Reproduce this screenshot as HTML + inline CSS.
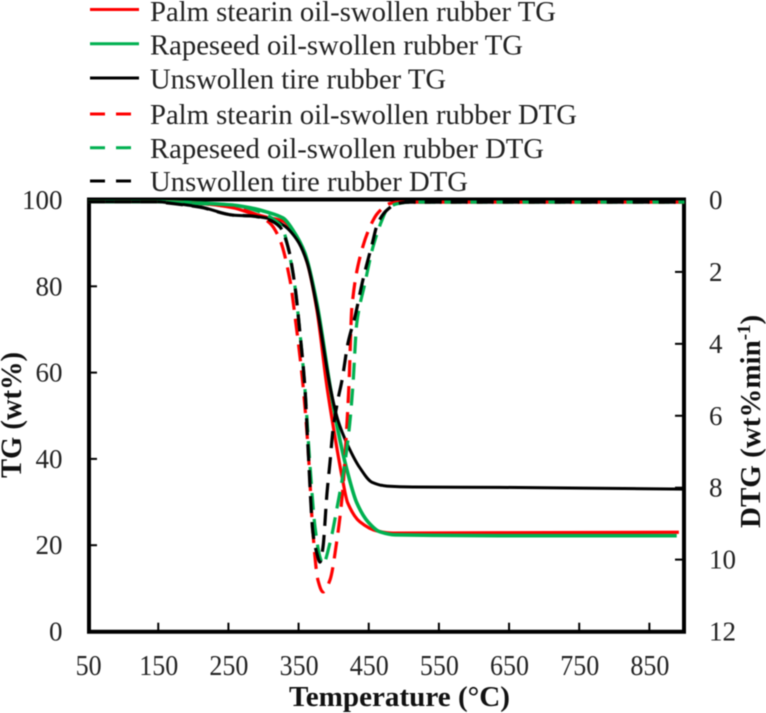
<!DOCTYPE html>
<html lang="en">
<head>
<meta charset="utf-8">
<title>TG and DTG curves</title>
<style>
html,body{margin:0;padding:0;background:#fff;}
body{width:766px;height:713px;overflow:hidden;}
svg{display:block;filter:blur(0.4px);font-family:"Liberation Serif",serif;fill:#222;}
</style>
</head>
<body>
<svg id="chart" width="766" height="713" viewBox="0 0 766 713" xmlns="http://www.w3.org/2000/svg">
  <g font-size="28">
    <line x1="90" x2="139" y1="9.5" y2="9.5" stroke="#ff0000" stroke-width="3"/>
    <text x="150" y="21" textLength="406" lengthAdjust="spacingAndGlyphs">Palm stearin oil-swollen rubber TG</text>
    <line x1="90" x2="139" y1="43.7" y2="43.7" stroke="#00b050" stroke-width="3"/>
    <text x="150" y="54.5" textLength="373" lengthAdjust="spacingAndGlyphs">Rapeseed oil-swollen rubber TG</text>
    <line x1="90" x2="139" y1="78" y2="78" stroke="#000" stroke-width="3"/>
    <text x="150" y="88.5" textLength="296" lengthAdjust="spacingAndGlyphs">Unswollen tire rubber TG</text>
    <line x1="90" x2="131" y1="114" y2="114" stroke="#ff0000" stroke-width="3" stroke-dasharray="15 11"/>
    <text x="150" y="124" textLength="427" lengthAdjust="spacingAndGlyphs">Palm stearin oil-swollen rubber DTG</text>
    <line x1="90" x2="131" y1="147.7" y2="147.7" stroke="#00b050" stroke-width="3" stroke-dasharray="15 11"/>
    <text x="150" y="158" textLength="394" lengthAdjust="spacingAndGlyphs">Rapeseed oil-swollen rubber DTG</text>
    <line x1="90" x2="131" y1="181" y2="181" stroke="#000" stroke-width="3" stroke-dasharray="15 11"/>
    <text x="150" y="191" textLength="318" lengthAdjust="spacingAndGlyphs">Unswollen tire rubber DTG</text>
  </g>
  <g id="axes"></g>
  <g id="series" fill="none"></g>
  <text x="289" y="706" font-size="29" font-weight="bold" fill="#111" textLength="221" lengthAdjust="spacingAndGlyphs">Temperature (°C)</text>
  <text transform="translate(21 478) rotate(-90)" font-size="30" font-weight="bold" fill="#111" textLength="126" lengthAdjust="spacingAndGlyphs">TG (wt%)</text>
  <text transform="translate(760 528) rotate(-90)" font-size="29" font-weight="bold" fill="#111">DTG (wt%min<tspan dy="-10" font-size="19">-1</tspan><tspan dy="10">)</tspan></text>
</svg>
<script>
var xTicks = [50,150,250,350,450,550,650,750,850];
var yLeftTicks = [0,20,40,60,80,100];
var yRightTicks = [0,2,4,6,8,10,12];

var palmTgT = [50,150,209.5,256.6,281,305,328,348,362,376,390.5,402,412,420,437.5,461.7,484.5,637,892];
var palmTgV = [99.6,99.6,99.2,98.2,97.0,96.0,95.1,91.1,85.6,74.6,56.7,45,35.8,29.8,25.4,23.3,22.8,22.9,23];

var rapeTgT = [50,150,209.5,256.6,281,305,328,342,359,376,395,406,419,433,449,466,487.5,637,889];
var rapeTgV = [99.6,99.6,99.3,98.8,98.2,97.2,95.8,93,87.7,76.1,56.7,46.7,37.4,29.8,25.4,23.1,22.4,22.2,22.2];

var tireTgT = [50,150,162.5,209.5,256.6,281,305,328,348,362,376,395,406,420,437.5,454.5,476,513,637,900];
var tireTgV = [99.6,99.6,99.4,98.4,96.5,96.3,95.8,94.2,90.7,85.6,75.2,56.7,49,43.2,37.9,34.6,33.7,33.5,33.4,33];

var palmDtgT = [50,150,209.5,256.6,288,309,323.5,337.7,345,356,363.4,370.5,377.6,384.8,394.7,404.7,413,419,421.8,426,437.5,451.7,463,480,494.4,900];
var palmDtgV = [0.05,0.05,0.1,0.2,0.39,0.64,1.11,2.22,3.25,5.09,6.87,9.26,10.57,10.9,10.57,9.45,8.06,6.2,5.14,2.98,1.59,0.75,0.36,0.1,0.06,0.06];

var rapeDtgT = [50,150,209.5,256.6,295,316,326,342,352,359,366,373.4,380.5,384.8,394.7,406,416,423,427.5,433,444.6,456,468.8,477.4,491.6,508.7,900];
var rapeDtgV = [0.05,0.05,0.1,0.14,0.33,0.56,0.75,2.03,3.7,5.23,7.31,9.09,9.93,10.12,9.54,8.43,7.31,6.2,5.14,3.42,2.31,1.31,0.56,0.22,0.1,0.06,0.06];

var tireDtgT = [50,150,162.5,209.5,256.6,280.8,305,323.5,335,345,352,359,363.4,370.5,376,380.5,384.8,390.5,394.7,399,406,412,420.4,430.3,441.7,454.5,463,476,490,508.7,900];
var tireDtgV = [0.05,0.05,0.08,0.2,0.42,0.44,0.53,0.75,1.31,2.42,3.7,5.2,6.87,9.26,9.82,10.07,9.65,8.15,7.31,6.4,5.56,5,3.98,3.25,2.22,1.25,0.64,0.28,0.1,0.06,0.06];

function xScale(t){ return 88.1 + (t - 50) * 0.7016; }
function yLeft(v){ return 631.5 - v * 4.315; }
function yRight(v){ return 200 + v * 35.96; }

var SVGNS = 'http://www.w3.org/2000/svg';
var seriesGroup = document.getElementById('series');
var axesGroup = document.getElementById('axes');

function smoothPath(ts, vs, yFn){
  var n = ts.length, px = [], py = [], s = [], m = [], i;
  for (i = 0; i < n; i++){ px.push(xScale(ts[i])); py.push(yFn(vs[i])); }
  for (i = 0; i < n - 1; i++){ s.push((py[i + 1] - py[i]) / (px[i + 1] - px[i])); }
  m.push(s[0]);
  for (i = 1; i < n - 1; i++){
    m.push(s[i - 1] * s[i] <= 0 ? 0 : 2 * s[i - 1] * s[i] / (s[i - 1] + s[i]));
  }
  m.push(s[n - 2]);
  var d = 'M' + px[0].toFixed(2) + ' ' + py[0].toFixed(2);
  for (i = 0; i < n - 1; i++){
    var h = (px[i + 1] - px[i]) / 3;
    d += 'C' + (px[i] + h).toFixed(2) + ' ' + (py[i] + m[i] * h).toFixed(2) + ' ' +
         (px[i + 1] - h).toFixed(2) + ' ' + (py[i + 1] - m[i + 1] * h).toFixed(2) + ' ' +
         px[i + 1].toFixed(2) + ' ' + py[i + 1].toFixed(2);
  }
  return d;
}

function addCurve(name, ts, vs, yFn, color, width, dash){
  var p = document.createElementNS(SVGNS, 'path');
  
  
  p.setAttribute('d', smoothPath(ts, vs, yFn));
  p.setAttribute('stroke', color);
  p.setAttribute('stroke-width', width);
  p.setAttribute('stroke-linejoin', 'round');
  if (dash) p.setAttribute('stroke-dasharray', dash);
  seriesGroup.appendChild(p);
}

addCurve('palm-tg-line', palmTgT, palmTgV, yLeft, '#ff0000', 3.2, null);
addCurve('rapeseed-tg-line', rapeTgT, rapeTgV, yLeft, '#00b050', 3.6, null);
addCurve('unswollen-tg-line', tireTgT, tireTgV, yLeft, '#000', 3, null);
addCurve('palm-dtg-line', palmDtgT, palmDtgV, yRight, '#ff0000', 3.2, '17 9');
addCurve('rapeseed-dtg-line', rapeDtgT, rapeDtgV, yRight, '#00b050', 3.2, '17 9');
addCurve('unswollen-dtg-line', tireDtgT, tireDtgV, yRight, '#000', 3.2, '17 9');

function addLine(name, x1, y1, x2, y2, w){
  var l = document.createElementNS(SVGNS, 'line');
  
  
  l.setAttribute('x1', x1);
  l.setAttribute('y1', y1);
  l.setAttribute('x2', x2);
  l.setAttribute('y2', y2);
  l.setAttribute('stroke', '#000');
  l.setAttribute('stroke-width', w);
  axesGroup.appendChild(l);
}

function addLabel(name, txt, x, y, anchor, size, fitWidth){
  var t = document.createElementNS(SVGNS, 'text');
  
  
  t.setAttribute('x', x);
  t.setAttribute('y', y);
  t.setAttribute('text-anchor', anchor);
  t.setAttribute('font-size', size);
  if (fitWidth){
    t.setAttribute('textLength', fitWidth);
    t.setAttribute('lengthAdjust', 'spacingAndGlyphs');
  }
  t.textContent = txt;
  axesGroup.appendChild(t);
}

var left = 89, right = 684, top_ = 199.5, bottom = 631.7;
addLine('top-spine', left - 2, top_, right + 2, top_, 4);
addLine('bottom-spine', left - 2, bottom, right + 2, bottom, 4);
addLine('left-spine', left, top_, left, bottom, 4);
addLine('right-spine', right, top_, right, bottom, 4);

xTicks.forEach(function(t){
  if (t !== 50) addLine('x-tick', xScale(t), bottom, xScale(t), bottom - 9, 2);
  addLabel('x-tick-label', String(t), xScale(t) + 0.5, 675, 'middle', 29, String(t).length * 13);
});
yLeftTicks.forEach(function(v){
  if (v !== 0 && v !== 100) addLine('left-y-tick', left, yLeft(v), left + 8, yLeft(v), 2);
  addLabel('left-y-tick-label', String(v), 62.5, yLeft(v) + 9, 'end', 27);
});
yRightTicks.forEach(function(v){
  if (v !== 0 && v !== 12) addLine('right-y-tick', right, yRight(v), right - 9, yRight(v), 2);
  addLabel('right-y-tick-label', String(v), 709, yRight(v) + 9, 'start', 27);
});
</script>
</body>
</html>
